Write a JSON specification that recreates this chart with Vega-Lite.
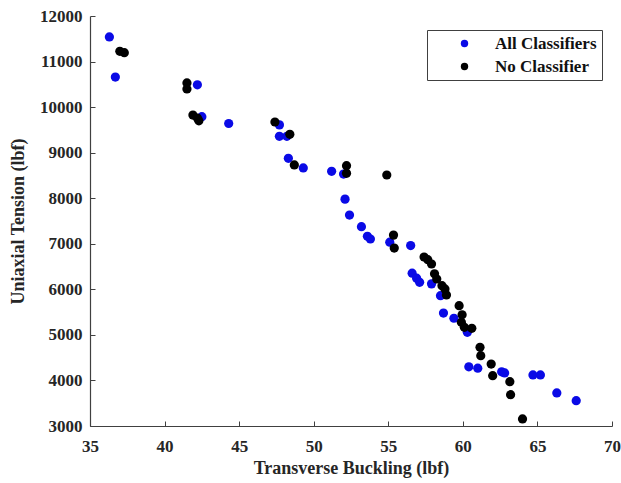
{
  "$schema": "https://vega.github.io/schema/vega-lite/v6.json",
  "width": 522,
  "height": 410,
  "autosize": {"type": "none"},
  "padding": {"left": 90, "top": 16, "right": 9, "bottom": 57},
  "background": "white",
  "config": {
    "view": {"stroke": null},
    "font": "Liberation Serif",
    "axis": {"grid": false, "domainColor": "#404040", "tickColor": "#404040", "labelColor": "#262626", "titleColor": "#262626", "labelFont": "Liberation Serif", "titleFont": "Liberation Serif", "labelFontWeight": "bold", "titleFontWeight": "bold", "labelFontSize": 17, "titleFontSize": 18, "tickSize": -5, "domainWidth": 1.2, "labelFlush": false}
  },
  "data": {"values": [
    {"x": 36.3, "y": 11540, "s": "All Classifiers"},
    {"x": 36.7, "y": 10660, "s": "All Classifiers"},
    {"x": 42.2, "y": 10490, "s": "All Classifiers"},
    {"x": 42.5, "y": 9790, "s": "All Classifiers"},
    {"x": 44.3, "y": 9640, "s": "All Classifiers"},
    {"x": 47.7, "y": 9610, "s": "All Classifiers"},
    {"x": 47.7, "y": 9360, "s": "All Classifiers"},
    {"x": 48.2, "y": 9360, "s": "All Classifiers"},
    {"x": 48.3, "y": 8876, "s": "All Classifiers"},
    {"x": 49.3, "y": 8664, "s": "All Classifiers"},
    {"x": 51.2, "y": 8590, "s": "All Classifiers"},
    {"x": 52.0, "y": 8530, "s": "All Classifiers"},
    {"x": 52.1, "y": 7980, "s": "All Classifiers"},
    {"x": 52.4, "y": 7630, "s": "All Classifiers"},
    {"x": 53.2, "y": 7375, "s": "All Classifiers"},
    {"x": 53.6, "y": 7165, "s": "All Classifiers"},
    {"x": 53.8, "y": 7105, "s": "All Classifiers"},
    {"x": 55.1, "y": 7035, "s": "All Classifiers"},
    {"x": 56.5, "y": 6960, "s": "All Classifiers"},
    {"x": 56.6, "y": 6355, "s": "All Classifiers"},
    {"x": 56.9, "y": 6245, "s": "All Classifiers"},
    {"x": 57.1, "y": 6155, "s": "All Classifiers"},
    {"x": 57.9, "y": 6120, "s": "All Classifiers"},
    {"x": 58.5, "y": 5860, "s": "All Classifiers"},
    {"x": 58.7, "y": 5480, "s": "All Classifiers"},
    {"x": 59.4, "y": 5365, "s": "All Classifiers"},
    {"x": 60.3, "y": 5057, "s": "All Classifiers"},
    {"x": 60.4, "y": 4300, "s": "All Classifiers"},
    {"x": 61.0, "y": 4270, "s": "All Classifiers"},
    {"x": 62.6, "y": 4190, "s": "All Classifiers"},
    {"x": 62.8, "y": 4165, "s": "All Classifiers"},
    {"x": 64.7, "y": 4120, "s": "All Classifiers"},
    {"x": 65.2, "y": 4120, "s": "All Classifiers"},
    {"x": 66.3, "y": 3725, "s": "All Classifiers"},
    {"x": 67.6, "y": 3556, "s": "All Classifiers"},
    {"x": 37.0, "y": 11225, "s": "No Classifier"},
    {"x": 37.3, "y": 11195, "s": "No Classifier"},
    {"x": 41.5, "y": 10530, "s": "No Classifier"},
    {"x": 41.5, "y": 10400, "s": "No Classifier"},
    {"x": 41.9, "y": 9825, "s": "No Classifier"},
    {"x": 42.2, "y": 9760, "s": "No Classifier"},
    {"x": 42.3, "y": 9700, "s": "No Classifier"},
    {"x": 47.4, "y": 9673, "s": "No Classifier"},
    {"x": 48.4, "y": 9403, "s": "No Classifier"},
    {"x": 48.7, "y": 8730, "s": "No Classifier"},
    {"x": 52.2, "y": 8714, "s": "No Classifier"},
    {"x": 52.2, "y": 8547, "s": "No Classifier"},
    {"x": 54.9, "y": 8510, "s": "No Classifier"},
    {"x": 55.35, "y": 7190, "s": "No Classifier"},
    {"x": 55.4, "y": 6905, "s": "No Classifier"},
    {"x": 57.4, "y": 6710, "s": "No Classifier"},
    {"x": 57.65, "y": 6650, "s": "No Classifier"},
    {"x": 57.9, "y": 6556, "s": "No Classifier"},
    {"x": 58.1, "y": 6340, "s": "No Classifier"},
    {"x": 58.25, "y": 6227, "s": "No Classifier"},
    {"x": 58.6, "y": 6080, "s": "No Classifier"},
    {"x": 58.8, "y": 6008, "s": "No Classifier"},
    {"x": 58.9, "y": 5876, "s": "No Classifier"},
    {"x": 59.75, "y": 5640, "s": "No Classifier"},
    {"x": 59.95, "y": 5440, "s": "No Classifier"},
    {"x": 59.9, "y": 5277, "s": "No Classifier"},
    {"x": 60.1, "y": 5167, "s": "No Classifier"},
    {"x": 60.6, "y": 5145, "s": "No Classifier"},
    {"x": 61.15, "y": 4728, "s": "No Classifier"},
    {"x": 61.2, "y": 4544, "s": "No Classifier"},
    {"x": 61.9, "y": 4360, "s": "No Classifier"},
    {"x": 62.0, "y": 4105, "s": "No Classifier"},
    {"x": 63.15, "y": 3973, "s": "No Classifier"},
    {"x": 63.2, "y": 3687, "s": "No Classifier"},
    {"x": 64.0, "y": 3154, "s": "No Classifier"}
  ]},
  "mark": {"type": "point", "filled": true, "shape": "circle", "size": 85, "opacity": 1},
  "encoding": {
    "x": {"field": "x", "type": "quantitative", "title": "Transverse Buckling (lbf)", "scale": {"domain": [35, 70], "nice": false, "zero": false}, "axis": {"values": [35, 40, 45, 50, 55, 60, 65, 70], "labelPadding": 17, "titlePadding": 5}},
    "y": {"field": "y", "type": "quantitative", "title": "Uniaxial Tension (lbf)", "scale": {"domain": [3000, 12000], "nice": false, "zero": false}, "axis": {"values": [3000, 4000, 5000, 6000, 7000, 8000, 9000, 10000, 11000, 12000], "format": "d", "labelPadding": 13, "titlePadding": 12}},
    "color": {"field": "s", "type": "nominal", "sort": ["All Classifiers", "No Classifier"], "scale": {"domain": ["All Classifiers", "No Classifier"], "range": ["#0a0ae6", "#000000"]},
      "legend": {"title": null, "orient": "none", "legendX": 337, "legendY": 14, "fillColor": "white", "strokeColor": "#404040", "padding": 5, "labelFont": "Liberation Serif", "labelFontWeight": "bold", "labelFontSize": 17, "labelColor": "#111", "symbolSize": 55, "symbolType": "circle", "rowPadding": 5, "labelOffset": 22, "symbolOffset": 24, "labelLimit": 220}}
  }
}
